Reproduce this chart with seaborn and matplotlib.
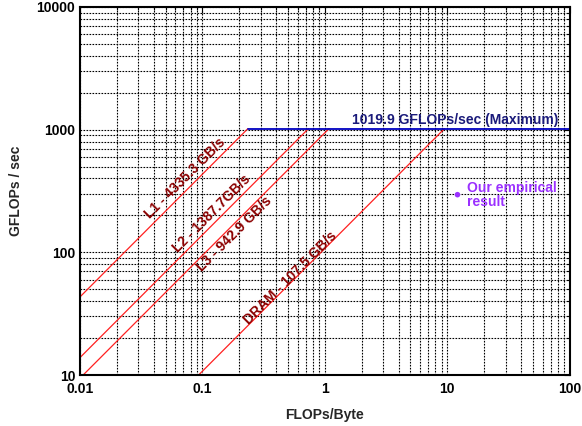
import matplotlib
matplotlib.use("Agg")
import matplotlib.pyplot as plt
import seaborn as sns
import numpy as np
import pandas as pd

sns.set_theme(style="white")
plt.rcParams['font.family'] = ['Liberation Sans', 'DejaVu Sans']

# Data
level_names = ["L1", "L2", "L3", "DRAM"]
bandwidths = [4335.3, 1387.7, 942.9, 107.5]          # GB/s
bw_labels = ["L1 - 4335.3 GB/s", "L2 - 1387.7GB/s", "L3 - 942.9 GB/s", "DRAM - 107.5 GB/s"]
label_x = [0.072, 0.12, 0.184, 0.52]
label_y = [400, 205, 141, 62]
peak_gflops = 1019.9
peak_label = "1019.9 GFLOPs/sec (Maximum)"
x_min, x_max = 0.01, 100
y_min, y_max = 10, 10000
empirical_x = [12.1]
empirical_y = [295]
x_ticks = [0.01, 0.1, 1, 10, 100]
x_ticklabels = ["0.01", "0.1", "1", "10", "100"]
y_ticks = [10, 100, 1000, 10000]
y_ticklabels = ["10", "100", "1000", "10000"]

rows = []
for name, bw in zip(level_names, bandwidths):
    ridge = peak_gflops / bw
    rows.append({"level": name, "x": x_min, "y": bw * x_min})
    rows.append({"level": name, "x": ridge, "y": bw * ridge})
roof = pd.DataFrame(rows)
peak_df = pd.DataFrame({"x": [peak_gflops / max(bandwidths), x_max],
                        "y": [peak_gflops, peak_gflops]})
emp_df = pd.DataFrame({"x": empirical_x, "y": empirical_y})

fig = plt.figure(figsize=(5.82, 4.26), dpi=100)
ax = fig.add_axes([0.1375, 0.1197, 0.8415, 0.864])

ax.set_xscale("log")
ax.set_yscale("log")
ax.set_xlim(x_min, x_max)
ax.set_ylim(y_min, y_max)

ax.grid(which="both", color="black", linestyle=(0, (1.5, 1.2)), linewidth=0.8)
ax.set_axisbelow(True)

sns.lineplot(data=roof, x="x", y="y", units="level", estimator=None,
             color="#ff2020", linewidth=0.9, ax=ax, legend=False)
sns.lineplot(data=peak_df, x="x", y="y", color="#0000c0", linewidth=1.3,
             ax=ax, legend=False)
sns.scatterplot(data=emp_df, x="x", y="y", color="#9b30ff", s=16,
                edgecolor="none", ax=ax, legend=False)

for lab, lx, ly in zip(bw_labels, label_x, label_y):
    ax.text(lx, ly, lab, rotation=45, rotation_mode="anchor", ha="center",
            va="center", color="#8b0000", fontsize=10, fontweight="bold")

ax.text(80, peak_gflops * 1.03, peak_label, ha="right", va="bottom",
        color="#1a1a7a", fontsize=10, fontweight="bold")
ax.text(14.6, 292, "Our empirical\nresult", ha="left", va="center",
        color="#9b30ff", fontsize=10, fontweight="bold", linespacing=1.05)

ax.set_xticks(x_ticks)
ax.set_xticklabels(x_ticklabels)
ax.set_yticks(y_ticks)
ax.set_yticklabels(y_ticklabels)
ax.tick_params(which="both", direction="in", top=True, right=True,
               labelsize=10, length=4, width=0.8, colors="black")
ax.tick_params(which="minor", length=2)
for lbl in ax.get_xticklabels() + ax.get_yticklabels():
    lbl.set_fontweight("bold")
ax.tick_params(axis="x", pad=5)

for sp in ax.spines.values():
    sp.set_visible(True)
    sp.set_color("black")
    sp.set_linewidth(1.5)

ax.set_xlabel("FLOPs/Byte", fontsize=10, fontweight="bold", labelpad=9)
ax.set_ylabel("GFLOPs / sec", fontsize=10, fontweight="bold", labelpad=10)

fig.savefig("out.png", dpi=100)
